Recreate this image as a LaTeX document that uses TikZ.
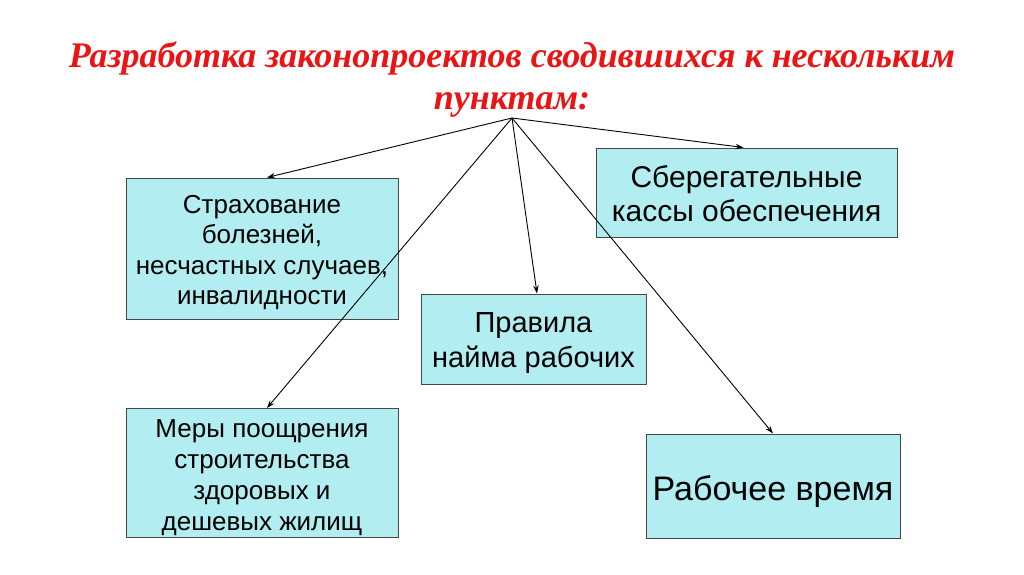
\documentclass[tikz,border=0pt]{standalone}
\usepackage{fontspec}
\setmainfont{Liberation Sans}
\newfontfamily\titlefont{Liberation Serif}
\usetikzlibrary{arrows.meta}
\definecolor{boxfill}{RGB}{178,238,241}
\definecolor{boxline}{RGB}{70,70,70}
\definecolor{titlered}{RGB}{235,20,20}
\tikzset{
  itembox/.style={draw=boxline, line width=1pt, fill=boxfill, inner sep=0pt},
  boxtext/.style={inner sep=0pt, align=center, text=black},
  conn/.style={draw=black, line width=0.9pt, -{Stealth[length=8pt,width=5.5pt]}},
  ttl/.style={text=titlered, font=\titlefont\bfseries\itshape\fontsize{36}{40}\selectfont, inner sep=0pt, anchor=base}
}
\begin{document}
\begin{tikzpicture}[x=1pt,y=-1pt]
\useasboundingbox (0,0) rectangle (1024,574);
\fill[white] (0,0) rectangle (1024,574);
% title
\node[ttl] (t1) at (512,67) {Разработка законопроектов сводившихся к нескольким};
\node[ttl] (t2) at (512,109) {пунктам:};
\coordinate (src) at (512,118);
% boxes
\node[itembox, minimum width=272pt, minimum height=141pt] (A) at (262,248.5) {};
\node[itembox, minimum width=301pt, minimum height=89pt] (B) at (746.5,192.5) {};
\node[itembox, minimum width=225pt, minimum height=90pt] (C) at (533.5,339) {};
\node[itembox, minimum width=272pt, minimum height=129pt] (D) at (262,473) {};
\node[itembox, minimum width=254pt, minimum height=104pt] (E) at (773,486) {};
% texts
\node[boxtext, font=\fontsize{26}{30.5}\selectfont] (At) at ([yshift=-4pt]A.center)
  {Страхование\\болезней,\\несчастных случаев,\\инвалидности};
\node[boxtext, font=\fontsize{30}{34}\selectfont] (Bt) at ([yshift=-1.5pt]B.center)
  {Сберегательные\\кассы обеспечения};
\node[boxtext, font=\fontsize{29}{35}\selectfont] (Ct) at ([yshift=-4.5pt]C.center)
  {Правила\\найма рабочих};
\node[boxtext, font=\fontsize{26}{31}\selectfont] (Dt) at ([yshift=-5pt]D.center)
  {Меры поощрения\\строительства\\здоровых и\\дешевых жилищ};
\node[boxtext, font=\fontsize{34}{38}\selectfont] (Et) at ([yshift=-6pt]E.center)
  {Рабочее время};
% connectors
\draw[conn] (src) -- ([xshift=5pt]A.north);
\draw[conn] (src) -- ([xshift=-3pt]B.north);
\draw[conn] (src) -- ([xshift=3.5pt]C.north);
\draw[conn] (src) -- ([xshift=5pt]D.north);
\draw[conn] (src) -- (E.north);
\end{tikzpicture}
\end{document}
